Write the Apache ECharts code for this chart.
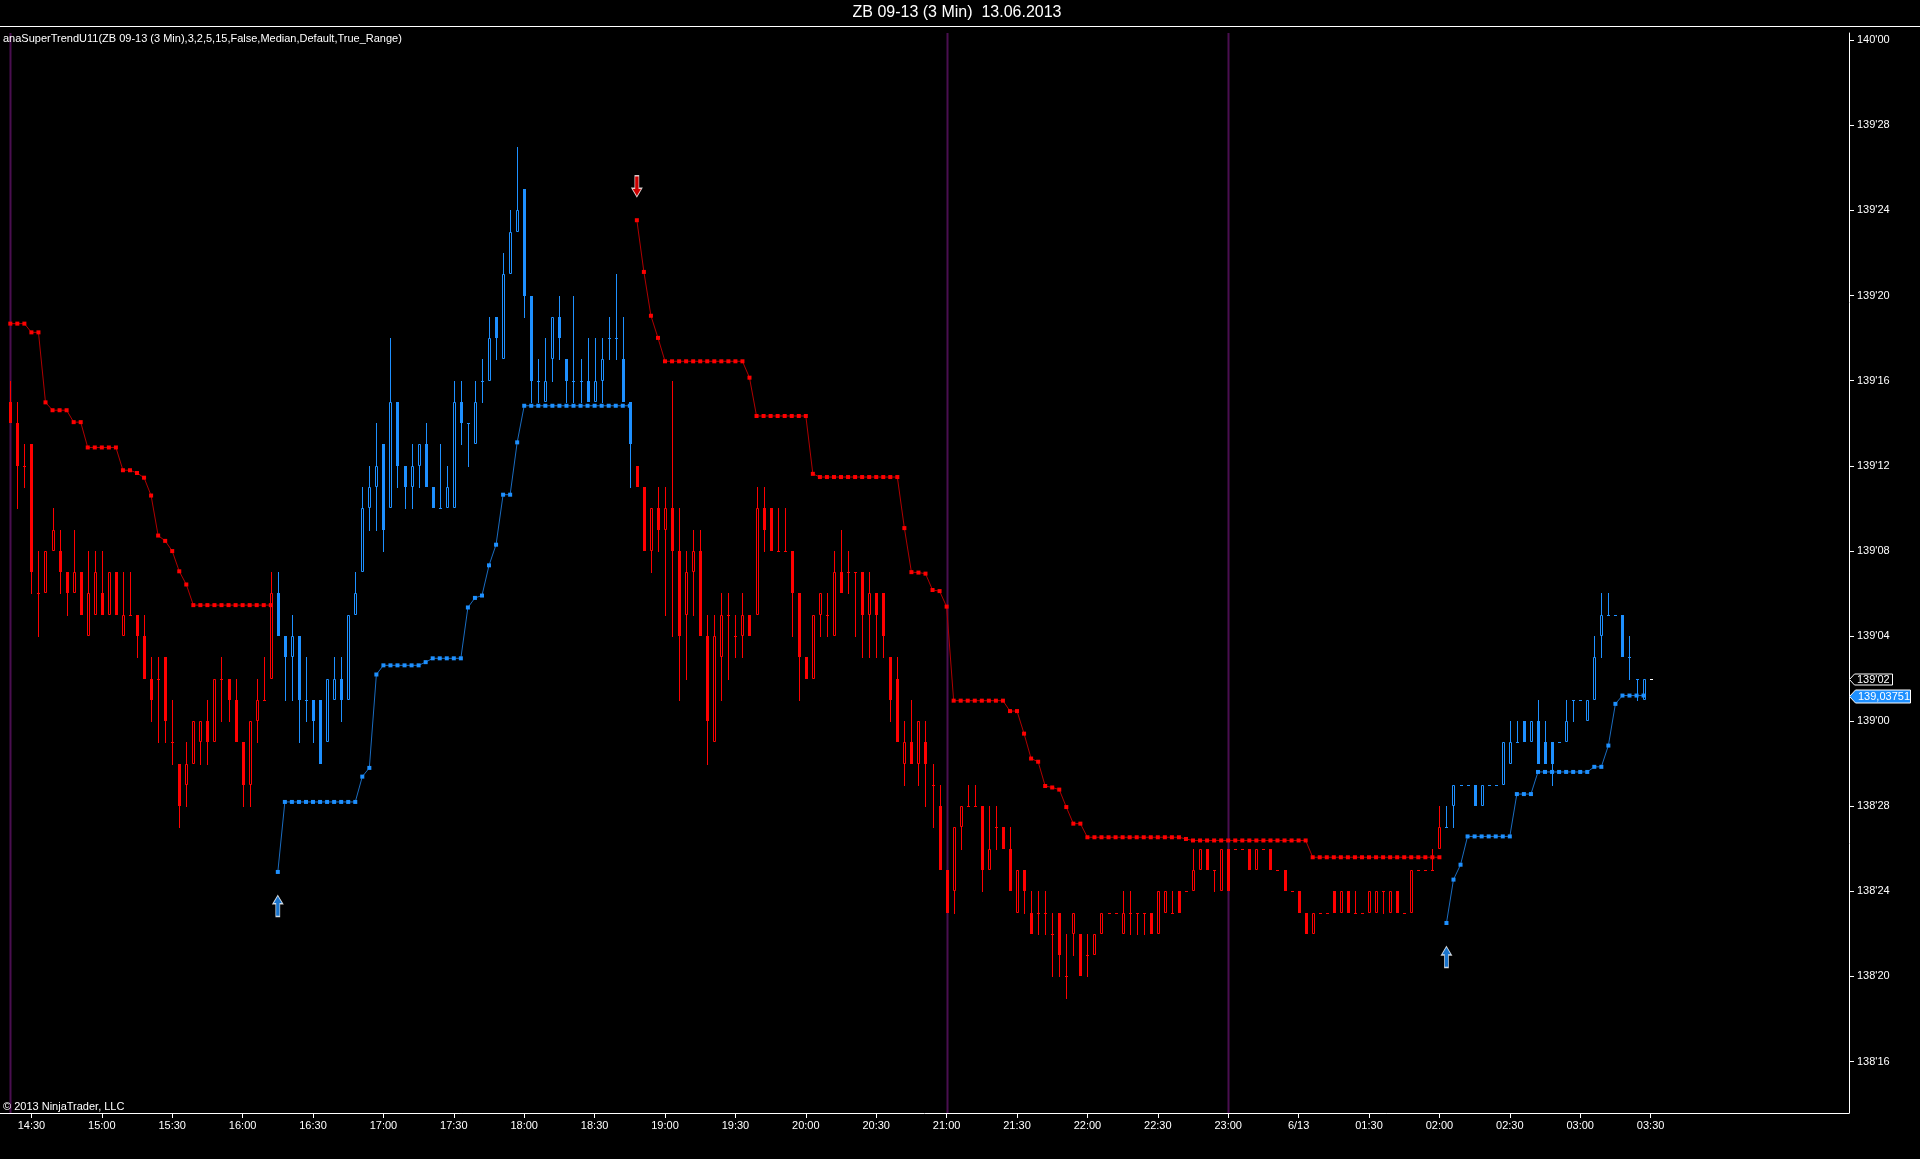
<!DOCTYPE html>
<html>
<head>
<meta charset="utf-8">
<script src="https://cdn.jsdelivr.net/npm/echarts@6/dist/echarts.min.js"></script>
<style>
html,body{margin:0;padding:0;background:#000;overflow:hidden;}
#chart{width:1920px;height:1159px;}
</style>
</head>
<body>
<div id="chart"></div>
<script>
// ZB 09-13, 3-minute bars. Prices are stored in 32nds above 138'00 (e.g. 34 = 139'02).
const N = null;
const barCount = 234;

const open = [
47,46,44,45,38,38,40,40,39,38, 39,36,37,38,37,39,36,37,37,36,
34,34,35,31,30,29,30,31,32,31, 34,34,33,31,29,32,33,34,38,36,
35,36,33,33,33,31,33,34,33,37, 39,42,43,45,42,47,44,43,44,45,
43,42,42,42,47,46,45,48,48,51, 49,53,55,57,52,48,47,49,51,49,
48,48,48,47,48,50,50,49,47,44, 43,40,42,41,42,40,37,39,40,36,
31,35,37,36,36,37,37,42,42,40, 40,40,38,35,34,37,37,36,39,39,
39,39,37,38,38,35,34,30,31,30, 31,29,28,25,24,27,28,28,28,25,
27,27,26,23,25,23,23,23,22,23, 20,22,22,21,21,22,23,23,22,23,
23,23,23,22,23,23,24,24,24,25, 26,25,24,26,26,26,26,25,26,26,
25,25,24,24,23,22,23,23,24,23, 24,23,23,23,23,24,23,24,23,23,
25,25,25,26,27,28,29,29,29,28, 29,29,29,30,31,32,31,32,31,31,
31,31,33,33,32,33,36,37,37,37, 35,34,33,34
];
const high = [
48,47,45,45,40,40,42,41,39,41, 39,40,40,40,39,39,39,39,37,37,
35,35,35,33,30,31,32,32,33,34, 35,34,34,31,32,34,35,39,39,36,
37,36,35,33,33,34,35,35,37,39, 43,44,46,45,50,47,44,45,45,46,
43,45,44,48,48,46,48,49,51,51, 54,56,59,57,52,49,50,51,52,49,
52,49,50,50,50,51,53,51,47,44, 43,42,43,43,48,42,40,41,41,37,
37,38,38,37,38,37,43,43,42,42, 42,40,38,35,37,38,38,40,41,40,
39,39,39,38,38,35,35,32,33,32, 32,30,29,25,27,28,29,29,28,28,
28,27,27,25,25,24,24,24,23,23, 22,23,22,22,22,23,23,23,24,24,
23,23,23,24,24,24,24,24,26,26, 26,25,26,26,26,26,26,26,26,26,
25,25,24,24,23,23,23,23,24,24, 24,24,23,24,24,24,24,24,23,25,
25,25,26,28,28,29,29,29,29,29, 29,29,31,32,32,32,32,33,32,31,
31,33,33,33,33,36,38,38,37,37, 36,34,34,34
];
const low = [
46,42,43,38,36,38,40,38,37,38, 37,36,37,37,37,37,36,37,35,34,
32,31,31,30,27,28,30,30,30,31, 32,32,31,28,28,31,33,34,36,33,
33,31,32,31,30,31,33,32,33,37, 39,41,41,40,42,43,42,42,43,43,
42,42,42,42,45,44,45,47,48,49, 49,53,55,51,47,47,47,48,49,47,
47,47,47,47,47,49,49,47,43,43, 40,39,40,37,36,33,34,37,36,30,
31,33,34,35,35,36,37,40,40,40, 40,36,33,34,34,36,36,36,38,38,
36,35,35,35,35,32,31,29,30,29, 28,27,25,23,23,26,28,28,24,25,
26,26,24,23,23,22,22,22,20,20, 19,21,20,20,21,22,23,23,22,22,
22,22,22,22,23,23,23,24,24,25, 25,24,24,24,26,26,25,25,26,25,
25,24,24,23,22,22,23,23,23,23, 23,23,23,23,23,23,23,23,23,23,
25,25,25,26,27,27,29,29,28,28, 29,29,29,30,31,31,31,30,30,29,
31,31,32,33,32,33,35,37,37,35, 34,33,33,34
];
const close = [
46,44,44,39,38,40,41,39,38,39, 37,38,39,37,39,37,37,37,36,34,
33,34,32,31,28,30,32,32,31,34, 34,33,31,29,32,33,33,38,36,35,
36,33,33,32,30,34,34,33,37,38, 42,43,44,41,47,44,43,44,45,43,
42,42,43,47,46,46,47,48,50,50, 53,55,56,52,48,48,48,51,50,48,
48,48,47,48,49,50,50,47,45,43, 40,42,41,42,40,36,39,40,36,32,
36,37,37,36,37,36,42,41,40,40, 40,38,35,34,37,38,37,39,38,39,
39,37,38,37,36,33,31,31,30,32, 30,29,25,23,27,28,28,28,25,26,
27,26,24,25,24,22,23,23,22,21, 20,23,20,21,22,23,23,23,23,23,
23,23,22,24,24,23,23,24,25,26, 25,25,26,24,26,26,25,26,26,25,
25,24,24,23,22,23,23,23,23,24, 23,23,23,24,24,24,24,23,23,25,
25,25,25,27,27,29,29,29,28,29, 29,29,31,31,31,31,32,30,30,30,
31,32,33,33,33,35,37,37,37,35, 35,34,34,34
];

// anaSuperTrendU11 stop lines (32nds above 138'00): red = down trend, blue = up trend
const stDown = [
50.68,50.68,50.68,50.27,50.27,46.98,46.61,46.61,46.61,46.05,
46.05,44.86,44.86,44.86,44.86,44.86,43.79,43.79,43.66,43.44,
42.6,40.72,40.47,39.99,39.04,38.42,37.45,37.45,37.45,37.45,
37.45,37.45,37.45,37.45,37.45,37.45,37.45,37.45,N,N,
N,N,N,N,N,N,N,N,N,N,
N,N,N,N,N,N,N,N,N,N,
N,N,N,N,N,N,N,N,N,N,
N,N,N,N,N,N,N,N,N,N,
N,N,N,N,N,N,N,N,N,55.54,
53.11,51.05,50.01,48.91,48.91,48.91,48.91,48.91,48.91,48.91,
48.91,48.91,48.91,48.91,48.91,48.14,46.34,46.34,46.34,46.34,
46.34,46.34,46.34,46.34,43.62,43.47,43.47,43.47,43.47,43.47,
43.47,43.47,43.47,43.47,43.47,43.47,43.47,41.07,39.0,38.98,
38.93,38.16,38.11,37.38,32.96,32.96,32.96,32.96,32.96,32.96,
32.96,32.96,32.47,32.47,31.41,30.24,30.09,28.95,28.88,28.78,
27.96,27.18,27.18,26.54,26.54,26.54,26.54,26.54,26.54,26.54,
26.54,26.54,26.54,26.54,26.54,26.54,26.54,26.46,26.39,26.39,
26.39,26.39,26.39,26.39,26.39,26.39,26.39,26.39,26.39,26.39,
26.39,26.39,26.39,26.39,26.39,25.6,25.6,25.6,25.6,25.6,
25.6,25.6,25.6,25.6,25.6,25.6,25.6,25.6,25.6,25.6,
25.6,25.6,25.6,25.6,N,N,N,N,N,N,
N,N,N,N,N,N,N,N,N,N,
N,N,N,N,N,N,N,N,N,N,
N,N,N,N
];
const stUp = [
N,N,N,N,N,N,N,N,N,N,
N,N,N,N,N,N,N,N,N,N,
N,N,N,N,N,N,N,N,N,N,
N,N,N,N,N,N,N,N,24.91,28.2,
28.2,28.2,28.2,28.2,28.2,28.2,28.2,28.2,28.2,28.2,
29.39,29.8,34.19,34.62,34.62,34.62,34.62,34.62,34.62,34.77,
34.95,34.95,34.95,34.95,34.95,37.34,37.79,37.9,39.32,40.29,
42.64,42.64,45.1,46.82,46.82,46.82,46.82,46.82,46.82,46.82,
46.82,46.82,46.82,46.82,46.82,46.82,46.82,46.82,46.82,N,
N,N,N,N,N,N,N,N,N,N,
N,N,N,N,N,N,N,N,N,N,
N,N,N,N,N,N,N,N,N,N,
N,N,N,N,N,N,N,N,N,N,
N,N,N,N,N,N,N,N,N,N,
N,N,N,N,N,N,N,N,N,N,
N,N,N,N,N,N,N,N,N,N,
N,N,N,N,N,N,N,N,N,N,
N,N,N,N,N,N,N,N,N,N,
N,N,N,N,N,N,N,N,N,N,
N,N,N,N,N,N,N,N,N,N,
N,N,N,N,22.51,24.55,25.25,26.58,26.58,26.58,
26.58,26.58,26.58,26.58,28.57,28.57,28.57,29.61,29.61,29.61,
29.61,29.61,29.61,29.61,29.61,29.85,29.85,30.85,32.81,33.2003,
33.2003,33.2003,33.2003,N
];

const timeTickBars = [3,13,23,33,43,53,63,73,83,93,103,113,123,133,143,153,163,173,183,193,203,213,223,233];
const timeTickLabels = ['14:30','15:00','15:30','16:00','16:30','17:00','17:30','18:00','18:30','19:00','19:30','20:00',
  '20:30','21:00','21:30','22:00','22:30','23:00','6/13','01:30','02:00','02:30','03:00','03:30'];
const priceTickLabels = ["138'16","138'20","138'24","138'28","139'00","139'04","139'08","139'12","139'16","139'20","139'24","139'28","140'00"];
const sessionBreakBars = [0,133,173];

const titleText = 'ZB 09-13 (3 Min)  13.06.2013';
const indicatorText = 'anaSuperTrendU11(ZB 09-13 (3 Min),3,2,5,15,False,Median,Default,True_Range)';
const copyrightText = '\u00A9 2013 NinjaTrader, LLC';

// ---------- helpers ----------
const toPrice = t => 138 + t / 32;
const parse32 = s => { const p = s.split("'"); return +p[0] + (+p[1]) / 32; };
const fmt32 = v => { const w = Math.floor(v + 1e-9); const n = Math.round((v - w) * 32); return w + "'" + String(n).padStart(2, '0'); };
const priceTickValues = priceTickLabels.map(parse32);
const labelByBar = {}; timeTickBars.forEach((b, k) => labelByBar[b] = timeTickLabels[k]);

const RED = '#ff0000', BLUE = '#1e90ff', WHITE = '#ffffff';
const trendColors = [RED, BLUE, WHITE];
const FONT = '"Liberation Sans", Arial, sans-serif';

const Y_MIN = 138.4244, Y_MAX = 140.0106;
const X_MIN = -1.463, X_MAX = 261.18;

const candleData = [];
for (let i = 0; i < barCount; i++) {
  const trend = stUp[i] != null ? 1 : (stDown[i] != null ? 0 : 2);
  candleData.push([i, toPrice(open[i]), toPrice(high[i]), toPrice(low[i]), toPrice(close[i]), trend]);
}
const stSeriesData = arr => arr.map((v, i) => [i, v == null ? '-' : toPrice(v)]);
const upArrows = [], downArrows = [];
for (let i = 1; i < barCount; i++) {
  if (stUp[i] != null && stUp[i - 1] == null) upArrows.push([i, toPrice(stUp[i])]);
  if (stDown[i] != null && stDown[i - 1] == null) downArrows.push([i, toPrice(stDown[i])]);
}

function renderCandle(params, api) {
  const i = api.value(0);
  const o = api.value(1), h = api.value(2), l = api.value(3), c = api.value(4);
  const col = trendColors[api.value(5)];
  const pO = api.coord([i, o]), pC = api.coord([i, c]), pH = api.coord([i, h]), pL = api.coord([i, l]);
  const cx = Math.round(pO[0]);
  const xm = cx + 0.5;
  const yTop = Math.round(Math.min(pO[1], pC[1]));
  const yBot = Math.round(Math.max(pO[1], pC[1]));
  const yH = Math.round(pH[1]), yL = Math.round(pL[1]);
  const kids = [];
  if (yH < yTop) kids.push({ type: 'line', shape: { x1: xm, y1: yH, x2: xm, y2: yTop }, style: { stroke: col, lineWidth: 1 } });
  if (yL > yBot) kids.push({ type: 'line', shape: { x1: xm, y1: yBot, x2: xm, y2: yL + 1 }, style: { stroke: col, lineWidth: 1 } });
  if (c < o) {
    kids.push({ type: 'rect', shape: { x: cx - 1, y: yTop, width: 3, height: Math.max(1, yBot - yTop) }, style: { fill: col } });
  } else if (c > o) {
    kids.push({ type: 'rect', shape: { x: cx - 0.5, y: yTop + 0.5, width: 2, height: Math.max(1, yBot - yTop - 1) }, style: { fill: '#000', stroke: col, lineWidth: 1 } });
  } else {
    kids.push({ type: 'line', shape: { x1: cx - 1, y1: yTop + 0.5, x2: cx + 2, y2: yTop + 0.5 }, style: { stroke: col, lineWidth: 1 } });
  }
  return { type: 'group', children: kids };
}

function renderBreak(params, api) {
  const p = api.coord([api.value(0), Y_MAX]);
  const cs = params.coordSys;
  const x = Math.round(p[0]) + 0.5;
  return { type: 'line', shape: { x1: x, y1: cs.y, x2: x, y2: cs.y + cs.height }, style: { stroke: '#4a0f50', lineWidth: 2 } };
}

const upArrowPath = 'path://M5,0 L10,8 L7,8 L7,20 L3,20 L3,8 L0,8 Z';
const downArrowPath = 'path://M3,0 L7,0 L7,12 L10,12 L5,20 L0,12 L3,12 Z';

const chart = echarts.init(document.getElementById('chart'), null, { renderer: 'canvas' });
chart.setOption({
  backgroundColor: '#000',
  animation: false,
  grid: { left: 0, top: 33, width: 1849, height: 1080, containLabel: false },
  xAxis: {
    type: 'value', min: X_MIN, max: X_MAX,
    axisLine: { show: true, onZero: false, lineStyle: { color: WHITE, width: 1 } },
    axisTick: { show: true, length: 5, customValues: timeTickBars, lineStyle: { color: WHITE } },
    axisLabel: { customValues: timeTickBars, formatter: v => labelByBar[Math.round(v)] || '', color: WHITE, fontSize: 11, fontFamily: FONT, margin: 7 },
    splitLine: { show: false }
  },
  yAxis: {
    type: 'value', position: 'right', min: Y_MIN, max: Y_MAX,
    axisLine: { show: true, onZero: false, lineStyle: { color: WHITE, width: 1 } },
    axisTick: { show: true, length: 5, customValues: priceTickValues, lineStyle: { color: WHITE } },
    axisLabel: { customValues: priceTickValues, formatter: v => fmt32(v), color: WHITE, fontSize: 11, fontFamily: FONT, margin: 8 },
    splitLine: { show: false }
  },
  series: [
    { type: 'custom', name: 'sessionBreaks', data: sessionBreakBars.map(b => [b, Y_MAX]), renderItem: renderBreak, silent: true, z: 1, encode: { x: 0, y: 1 } },
    { type: 'custom', name: 'ZB 09-13', data: candleData, renderItem: renderCandle, silent: true, z: 2, clip: true, encode: { x: 0, y: [1, 2, 3, 4] } },
    { type: 'line', name: 'SuperTrend down', data: stSeriesData(stDown), symbol: 'rect', symbolSize: 4, showSymbol: true, showAllSymbol: true,
      lineStyle: { color: '#b00000', width: 1 }, itemStyle: { color: RED }, connectNulls: false, silent: true, z: 3 },
    { type: 'line', name: 'SuperTrend up', data: stSeriesData(stUp), symbol: 'rect', symbolSize: 4, showSymbol: true, showAllSymbol: true,
      lineStyle: { color: '#1a6cc0', width: 1 }, itemStyle: { color: BLUE }, connectNulls: false, silent: true, z: 3 },
    { type: 'scatter', name: 'trend down', data: downArrows, symbol: downArrowPath, symbolSize: [10, 21], symbolOffset: [0, -34],
      itemStyle: { color: RED, borderColor: WHITE, borderWidth: 1 }, silent: true, z: 4 },
    { type: 'scatter', name: 'trend up', data: upArrows, symbol: upArrowPath, symbolSize: [10, 21], symbolOffset: [0, 34],
      itemStyle: { color: BLUE, borderColor: WHITE, borderWidth: 1 }, silent: true, z: 4 }
  ]
});

// price markers on the right axis, placed through the axis scale
const lastClose = toPrice(close[barCount - 1]);
let lastST = null; for (let i = barCount - 1; i >= 0; i--) { if (stUp[i] != null) { lastST = toPrice(stUp[i]); break; } }
const yC = Math.round(chart.convertToPixel({ yAxisIndex: 0 }, lastClose)) + 0.5;
const yS = Math.round(chart.convertToPixel({ yAxisIndex: 0 }, lastST)) + 0.5;
const axX = 1849.5;

chart.setOption({
  graphic: [
    { type: 'text', x: 957, y: 13, style: { text: titleText, fill: WHITE, font: '16px ' + FONT, align: 'center', verticalAlign: 'middle' }, z: 10 },
    { type: 'line', shape: { x1: 0, y1: 26.5, x2: 1920, y2: 26.5 }, style: { stroke: WHITE, lineWidth: 1 }, z: 10 },
    { type: 'text', x: 3, y: 39, style: { text: indicatorText, fill: WHITE, font: '11px ' + FONT, align: 'left', verticalAlign: 'middle' }, z: 10 },
    { type: 'text', x: 3, y: 1107, style: { text: copyrightText, fill: WHITE, font: '11px ' + FONT, align: 'left', verticalAlign: 'middle' }, z: 10 },
    { type: 'polygon', shape: { points: [[axX, yC], [axX + 5, yC - 5.5], [1892.5, yC - 5.5], [1892.5, yC + 5.5], [axX + 5, yC + 5.5]] },
      style: { fill: '#000', stroke: WHITE, lineWidth: 1 }, z: 10 },
    { type: 'text', x: 1857, y: yC, style: { text: fmt32(lastClose), fill: WHITE, font: '11px ' + FONT, align: 'left', verticalAlign: 'middle' }, z: 11 },
    { type: 'polygon', shape: { points: [[axX, yS], [axX + 6, yS - 6.5], [1910.5, yS - 6.5], [1910.5, yS + 6.5], [axX + 6, yS + 6.5]] },
      style: { fill: BLUE, stroke: WHITE, lineWidth: 1 }, z: 10 },
    { type: 'text', x: 1858, y: yS, style: { text: lastST.toFixed(5).replace('.', ','), fill: WHITE, font: '11px ' + FONT, align: 'left', verticalAlign: 'middle' }, z: 11 }
  ]
});
</script>
</body>
</html>
